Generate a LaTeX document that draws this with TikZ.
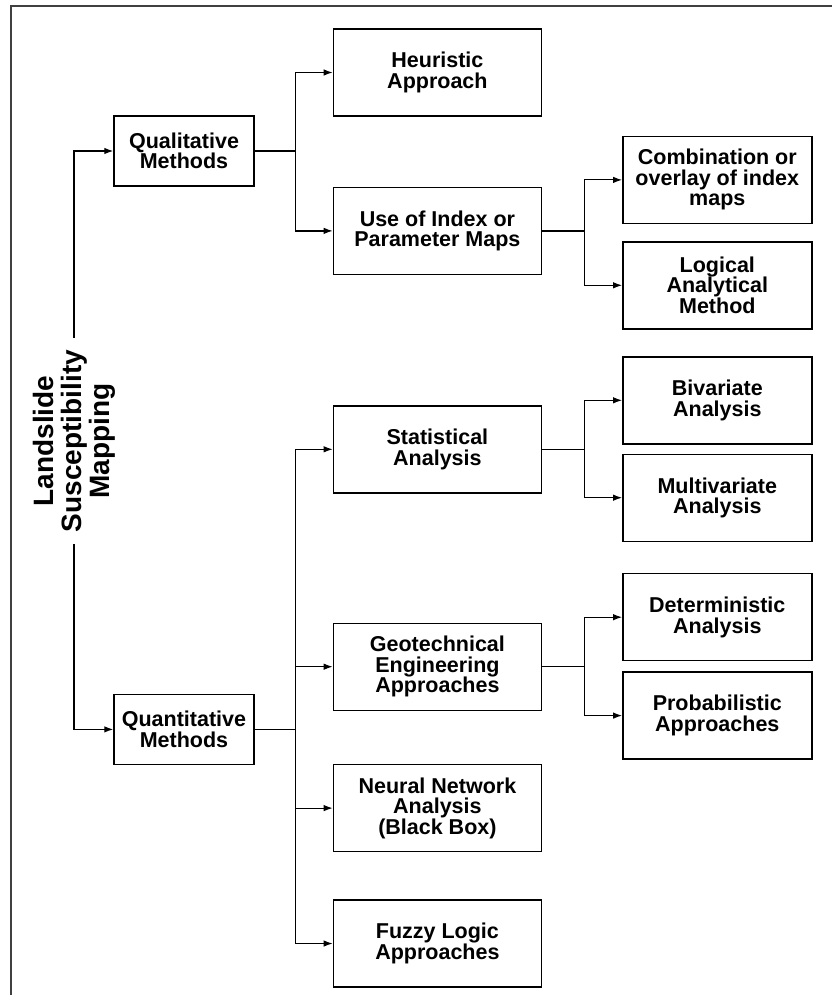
\documentclass[tikz,border=0pt]{standalone}
\usepackage{fontspec}
\setmainfont{Liberation Sans}
\usetikzlibrary{arrows.meta, positioning}

\begin{document}
\begin{tikzpicture}[
    x=1pt, y=1pt,
    node distance=70pt and 78pt,
    block/.style={draw, rectangle, line width=1.4pt, align=center, font=\bfseries\fontsize{21.5}{20.5}\selectfont},
    method/.style={block, minimum width=140pt, minimum height=70pt},
    approach/.style={block, minimum width=208pt, minimum height=87pt},
    technique/.style={block, minimum width=189pt, minimum height=87pt},
    arrow/.style={line width=1.2pt, -{Latex[length=9pt, width=6.5pt]}},
    frame/.style={line width=2pt, black!75}
]

\useasboundingbox (0,0) rectangle (832,-995);
\draw[frame] (11,-995) -- (11,-6) -- (832,-6);

% Nodes
\node (lsm) [rotate=90, inner sep=12pt, align=center, font=\bfseries\fontsize{28}{28}\selectfont] at (74,-441) {Landslide\\Susceptibility\\Mapping};
\node (qual) [method] at (184,-151) {Qualitative\\Methods};
\node (quan) [method, below=507pt of qual] {Quantitative\\Methods};

\node (heur) [approach, right=of qual, yshift=78.5pt] {Heuristic\\Approach};
\node (idx) [approach, below=of heur] {Use of Index or\\Parameter Maps};
\node (stat) [approach, below=130pt of idx] {Statistical\\Analysis};
\node (geo) [approach, below=129pt of stat] {Geotechnical\\Engineering\\Approaches};
\node (neur) [approach, below=53pt of geo] {Neural Network\\Analysis\\(Black Box)};
\node (fuzz) [approach, below=47pt of neur] {Fuzzy Logic\\Approaches};

\node (comb) [technique, right=80pt of idx, yshift=51pt] {Combination or\\overlay of index\\maps};
\node (logic) [technique, below=17pt of comb] {Logical\\Analytical\\Method};
\node (biv) [technique, right=80pt of stat, yshift=49pt] {Bivariate\\Analysis};
\node (multi) [technique, below=9pt of biv] {Multivariate\\Analysis};
\node (det) [technique, right=80pt of geo, yshift=49.5pt] {Deterministic\\Analysis};
\node (prob) [technique, below=10pt of det] {Probabilistic\\Approaches};

% Links
\draw[arrow] (lsm.east) |- (qual);
\draw[arrow] (lsm.west) |- (quan);

\draw[arrow] (qual.east) -- ++(41,0) |- (heur);
\draw[arrow] (qual.east) -- ++(41,0) |- (idx);

\draw[arrow] (quan.east) -- ++(41,0) |- (stat);
\draw[arrow] (quan.east) -- ++(41,0) |- (geo);
\draw[arrow] (quan.east) -- ++(41,0) |- (neur);
\draw[arrow] (quan.east) -- ++(41,0) |- (fuzz);

\draw[arrow] (idx.east) -- ++(42,0) |- (comb);
\draw[arrow] (idx.east) -- ++(42,0) |- (logic);
\draw[arrow] (stat.east) -- ++(42,0) |- (biv);
\draw[arrow] (stat.east) -- ++(42,0) |- (multi);
\draw[arrow] (geo.east) -- ++(42,0) |- (det);
\draw[arrow] (geo.east) -- ++(42,0) |- (prob);

\end{tikzpicture}
\end{document}
